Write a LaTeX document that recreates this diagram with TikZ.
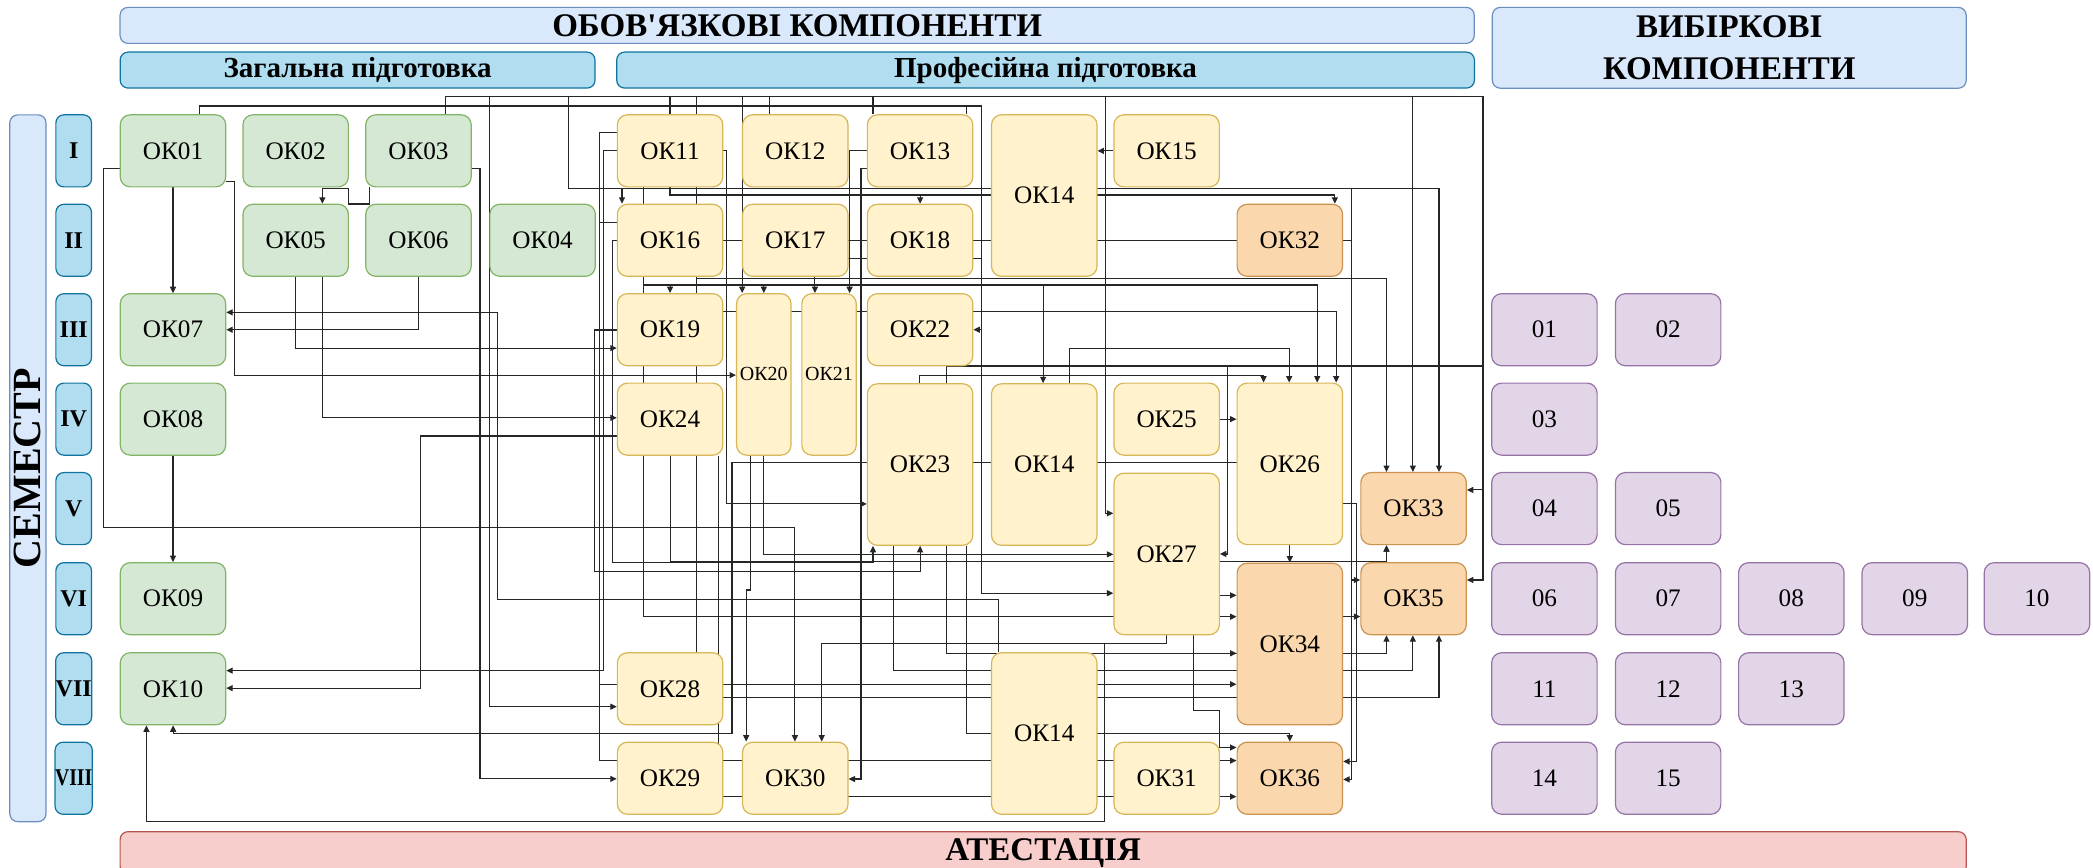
\documentclass[tikz,border=0pt]{standalone}
\usepackage{fontspec}
\setmainfont{Liberation Serif}[Ligatures=TeXOff]
\usetikzlibrary{arrows.meta,backgrounds}

\definecolor{grfill}{HTML}{D5E8D4}\definecolor{grline}{HTML}{82B366}
\definecolor{ylfill}{HTML}{FFF2CC}\definecolor{ylline}{HTML}{D6B656}
\definecolor{orfill}{HTML}{FAD7AC}\definecolor{orline}{HTML}{B46504}
\definecolor{vlfill}{HTML}{E1D5E7}\definecolor{vlline}{HTML}{9673A6}
\definecolor{lbfill}{HTML}{DAE8FC}\definecolor{lbline}{HTML}{6C8EBF}
\definecolor{bufill}{HTML}{B1DDF0}\definecolor{buline}{HTML}{10739E}
\definecolor{rdfill}{HTML}{F8CECC}\definecolor{rdline}{HTML}{B85450}

\tikzset{
  course/.style={rounded corners=5pt, draw, line width=0.6pt, minimum width=52.7pt,
    minimum height=36pt, inner sep=0pt, font=\fontsize{12.6}{14}\selectfont},
  gen/.style={course, fill=grfill, draw=grline},
  prof/.style={course, fill=ylfill, draw=ylline},
  fin/.style={course, fill=orfill, draw=orline!70},
  elec/.style={course, fill=vlfill, draw=vlline},
  tall/.style={minimum height=80.7pt},
  slim/.style={minimum width=27.2pt, font=\fontsize{10}{12}\selectfont},
  band/.style={rounded corners=4pt, draw, line width=0.6pt, inner sep=0pt,
    font=\bfseries\fontsize{16.5}{20.8}\selectfont, align=center},
  head/.style={band, fill=lbfill, draw=lbline},
  subhead/.style={band, fill=bufill, draw=buline, minimum height=18pt,
    font=\bfseries\fontsize{14.5}{17}\selectfont},
  sem/.style={subhead, minimum width=17.8pt, minimum height=36pt,
    font=\bfseries\fontsize{12}{14}\selectfont},
  link/.style={line width=0.55pt, draw=black!85},
  arr/.style={link, -{Triangle[length=3.2pt,width=3pt]}},
}

\begin{document}
\begin{tikzpicture}[x=0.667pt, y=-0.667pt]
\useasboundingbox (0,0) rectangle (1568,650);

% headings
\node[head, minimum width=676.7pt, minimum height=18pt] (oblig) at (597.2,19) {ОБОВ'ЯЗКОВІ КОМПОНЕНТИ};
\node[subhead, minimum width=237.3pt] (general) at (267.9,52.5) {Загальна підготовка};
\node[subhead, minimum width=428.6pt] (profess) at (783.3,52.5) {Професійна підготовка};
\node[head, minimum width=236.8pt, minimum height=40.4pt] (elect) at (1295.5,35.8) {ВИБІРКОВІ\\КОМПОНЕНТИ};
\node[band, fill=rdfill, draw=rdline, minimum width=922.5pt, minimum height=21.3pt] (attest) at (781.5,639) {АТЕСТАЦІЯ};
\node[head, rotate=90, minimum width=353.2pt, minimum height=18.1pt,
  font=\bfseries\fontsize{20}{24}\selectfont] (semstrip) at (20.9,350.8) {СЕМЕСТР};
\foreach \r/\t/\y in {I/I/113, II/II/180, III/III/247, IV/IV/314, V/V/381,
  VI/VI/448.5, VII/VII/516, VIII/{\scalebox{0.82}[1]{VIII}}/583}
  \node[sem] (sem\r) at (55.2,\y) {\t};

% general training
\node[gen] (ok01) at (129.6,113) {ОК01};
\node[gen] (ok02) at (221.5,113) {ОК02};
\node[gen] (ok03) at (313.5,113) {ОК03};
\node[gen] (ok05) at (221.5,180) {ОК05};
\node[gen] (ok06) at (313.5,180) {ОК06};
\node[gen] (ok04) at (406.5,180) {ОК04};
\node[gen] (ok07) at (129.6,247) {ОК07};
\node[gen] (ok08) at (129.6,314) {ОК08};
\node[gen] (ok09) at (129.6,448.5) {ОК09};
\node[gen] (ok10) at (129.6,516) {ОК10};

% professional training
\node[prof] (ok11) at (502,113) {ОК11};
\node[prof] (ok12) at (595.8,113) {ОК12};
\node[prof] (ok13) at (689.3,113) {ОК13};
\node[prof,tall] (ok14a) at (782.3,146.5) {ОК14};
\node[prof] (ok15) at (874,113) {ОК15};
\node[prof] (ok16) at (502,180) {ОК16};
\node[prof] (ok17) at (595.8,180) {ОК17};
\node[prof] (ok18) at (689.3,180) {ОК18};
\node[prof] (ok19) at (502,247) {ОК19};
\node[prof,tall,slim] (ok20) at (572.2,280.5) {ОК20};
\node[prof,tall,slim] (ok21) at (621.1,280.5) {ОК21};
\node[prof] (ok22) at (689.3,247) {ОК22};
\node[prof] (ok24) at (502,314) {ОК24};
\node[prof,tall] (ok23) at (689.3,348) {ОК23};
\node[prof,tall] (ok14b) at (782.3,348) {ОК14};
\node[prof] (ok25) at (874,314) {ОК25};
\node[prof,tall] (ok26) at (966.3,347.5) {ОК26};
\node[prof,tall] (ok27) at (874,415) {ОК27};
\node[prof] (ok28) at (502,516) {ОК28};
\node[prof] (ok29) at (502,583) {ОК29};
\node[prof] (ok30) at (595.8,583) {ОК30};
\node[prof,tall] (ok14c) at (782.3,549.5) {ОК14};
\node[prof] (ok31) at (874,583) {ОК31};
\node[fin] (ok32) at (966.3,180) {ОК32};
\node[fin] (ok33) at (1059,381) {ОК33};
\node[fin] (ok35) at (1059,448.5) {ОК35};
\node[fin,tall] (ok34) at (966.3,482.4) {ОК34};
\node[fin] (ok36) at (966.3,583) {ОК36};

% elective components
\foreach \n/\x/\y in {01/1157/247, 02/1249.7/247, 03/1157/314, 04/1157/381, 05/1249.7/381,
  06/1157/448.5, 07/1249.7/448.5, 08/1342/448.5, 09/1434.5/448.5, 10/1526/448.5,
  11/1157/516, 12/1249.7/516, 13/1342/516, 14/1157/583, 15/1249.7/583}
  \node[elec] (v\n) at (\x,\y) {\n};

\begin{scope}[on background layer]
% left block
\draw[arr] (ok01.south) -- (ok07.north);
\draw[arr] (ok08.south) -- (ok09.north);
\draw[arr] (277,0 |- ok03.south) |- (260.9,152.8) |- (241.5,141.5) -- (241.5,0 |- ok05.north);
\draw[arr] (221.5,0 |- ok05.south) |- (ok19.west |- 0,260.8);
\draw[arr] (241.5,0 |- ok05.south) |- (ok24.west |- 0,313);
\draw[arr] (ok06.south) |- (ok07.east |- 0,247);
\draw[arr] (ok01.east |- 0,136) -| (175.6,281) -- (ok20.west |- 0,281);
\draw[arr] (ok01.west |- 0,126) -| (77.6,395) -| (595.5,0 |- ok30.north);
\draw[arr] (149.5,0 |- ok01.north) |- (735.4,79.4) |- (ok27.west |- 0,444.4);
\draw[arr] (149.5,0 |- ok01.north) |- (735.4,79.4) |- (ok22.east |- 0,247);
\draw[link] (724,0 |- ok13.north) -- (724,79.4);
\draw[arr] (ok03.east |- 0,126) -| (359.6,583.5) -- (ok29.west |- 0,583.5);
\draw[arr] (748,0 |- ok14c.north) |- (373,449) |- (ok07.east |- 0,234);

% upper bus
\draw[arr] (333.7,0 |- ok03.north) |- (1111,72.4) |- (ok33.east |- 0,367);
\draw[arr] (333.7,0 |- ok03.north) |- (1111,72.4) |- (ok35.east |- 0,434.5);
\draw[arr] (333.7,0 |- ok03.north) |- (367,72.4) |- (ok28.west |- 0,529.4);
\draw[arr] (333.7,0 |- ok03.north) |- (425.7,72.4) |- (466,141.5) -- (466,0 |- ok16.north);
\draw[arr] (333.7,0 |- ok03.north) |- (425.7,72.4) |- (1078,141.5) -- (1078,0 |- ok33.north);
\draw[arr] (333.7,0 |- ok03.north) |- (425.7,72.4) |- (1012.5,141.5) |- (ok36.east |- 0,583.9);
\draw[arr] (333.7,0 |- ok03.north) |- (425.7,72.4) |- (1012.5,141.5) |- (ok35.west |- 0,434.5);
\draw[arr] (501.9,0 |- ok11.north) |- (556,72.4) -- (556,0 |- ok20.north);
\draw[arr] (576.3,0 |- ok12.north) |- (521.9,72.4) |- (1038.7,208.5) -- (1038.7,0 |- ok33.north);
\draw[link] (521.9,0 |- ok28.north) -- (521.9,208.5);
\draw[arr] (654,0 |- ok13.north) |- (828.2,72.4) |- (ok27.west |- 0,384.5);
\draw[arr] (654,0 |- ok13.north) |- (1058.5,72.4) -- (1058.5,0 |- ok33.north);

% from OK11 and OK13
\draw[arr] (501.9,0 |- ok11.south) |- (689.3,146.1) -- (ok18.north);
\draw[arr] (501.9,0 |- ok11.south) |- (1000,146.1) -- (1000,0 |- ok32.north);
\draw[arr] (482,0 |- ok11.south) |- (502,213.5) -- (ok19.north);
\draw[arr] (482,0 |- ok11.south) |- (572.2,213.5) -- (ok20.north);
\draw[arr] (482,0 |- ok11.south) |- (781.5,213.5) -- (781.5,0 |- ok14b.north);
\draw[arr] (482,0 |- ok11.south) |- (986.8,213.5) -- (986.8,0 |- ok26.north);
\draw[arr] (482,0 |- ok11.south) |- (ok34.west |- 0,462);
\draw[arr] (ok11.west |- 0,112.8) -| (452,502.4) -- (ok10.east |- 0,502.4);
\draw[arr] (ok11.west |- 0,99.4) -| (449,512.6) -- (ok34.west |- 0,512.6);
\draw[arr] (ok11.east |- 0,112.8) -| (544.5,377.5) -- (ok23.west |- 0,377.5);
\draw[arr] (ok16.west |- 0,166.8) -| (449,569.8) -- (ok36.west |- 0,569.8);
\draw[arr] (ok13.west |- 0,112.9) -| (636.5,0 |- ok21.north);
\draw[arr] (ok13.west |- 0,126) -| (645,583.6) -- (ok30.east |- 0,583.6);
\draw[arr] (ok18.west |- 0,193.5) -| (610.5,0 |- ok21.north);
\draw[link] (ok18.east |- 0,193.5) -- (735.4,193.5);
\draw[arr] (ok32.west) -| (459,421.5) -| (654,0 |- ok23.south);
\draw[link] (ok32.east) -- (1012.5,0 |- ok32.east);
\draw[arr] (ok15.west) -- (ok14a.east |- ok15.west);

% middle rows
\draw[arr] (ok19.west |- 0,247.2) -| (445.7,428.2) -| (ok23.south);
\draw[arr] (ok19.east |- 0,233.4) -| (1001,0 |- ok26.north);
\draw[arr] (ok24.west |- 0,326.6) -| (315.3,515.5) -- (ok10.east |- 0,515.5);
\draw[arr] (502,0 |- ok24.south) |- (1038.7,420.7) -- (1038.7,0 |- ok33.south);
\draw[arr] (538,0 |- ok24.south) |- (ok36.west |- 0,596.8);
\draw[arr] (562,0 |- ok20.south) -- (562,442) -| (559,0 |- ok30.north);
\draw[arr] (572.2,0 |- ok20.south) |- (ok27.west |- 0,415.3);
\draw[arr] (688.7,0 |- ok23.north) |- (946.6,281) -- (946.6,0 |- ok26.north);
\draw[arr] (709,0 |- ok23.north) |- (919.9,274.2) |- (ok27.east |- 0,415);
\draw[link] (709,0 |- ok23.north) |- (1111,274.2);
\draw[arr] (801.4,0 |- ok14b.north) |- (965.8,261) -- (965.8,0 |- ok26.north);
\draw[arr] (ok25.east) -- (ok26.west |- ok25.east);
\draw[arr] (ok26.west |- 0,346.5) -| (548.4,549.8) -| (129.7,0 |- ok10.south);
\draw[arr] (ok26.south) -- (ok34.north);
\draw[arr] (ok26.east |- 0,377) -| (1016,570.4) -- (ok36.east |- 0,570.4);

% lower rows
\draw[arr] (ok27.east |- 0,420.7) -| (1038.7,0 |- ok33.south);
\draw[arr] (ok27.east |- 0,446) -- (ok34.west |- 0,446);
\draw[arr] (873.9,0 |- ok27.south) |- (827.7,482.4) |- (109.7,615.5) -- (109.7,0 |- ok10.south);
\draw[arr] (873.9,0 |- ok27.south) |- (615.6,482.4) -- (615.6,0 |- ok30.north);
\draw[arr] (893.9,0 |- ok27.south) |- (913.4,532.3) |- (ok36.west |- 0,560);
\draw[arr] (709,0 |- ok23.south) |- (ok34.west |- 0,489.4);
\draw[arr] (709,0 |- ok23.south) |- (1038.7,489.4) -- (1038.7,0 |- ok35.south);
\draw[arr] (669.6,0 |- ok23.south) |- (1058.5,502.4) -- (1058.5,0 |- ok35.south);
\draw[arr] (724,0 |- ok23.south) |- (966.3,549.8) -- (ok36.north);
\draw[arr] (ok28.east |- 0,522.6) -| (1078,0 |- ok35.south);
\draw[arr] (ok34.east |- 0,461.9) -- (ok35.west |- 0,461.9);
\end{scope}
\end{tikzpicture}
\end{document}
